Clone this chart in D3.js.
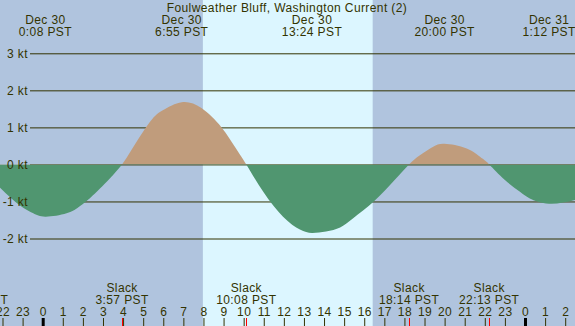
<!DOCTYPE html>
<html>
<head>
<meta charset="utf-8">
<script src="https://cdn.jsdelivr.net/npm/d3@7"></script>
<style>
  html, body { margin: 0; padding: 0; background: #b0c4de; }
  .vis { width: 575px; height: 326px; }
  text { font-family: "Liberation Sans", Arial, sans-serif; font-size: 12px; letter-spacing: 0.4px; fill: #333300; }
</style>
</head>
<body>
<div class="vis"></div>
<script>
(function() {
  'use strict';

  // current speed (kt), hours from Dec 30 0:00 PST
  var currentHours  = [-3.22, -2.12, -1.13, -0.47, 0.13, 1.19, 1.86, 2.35, 2.85, 3.35, 3.95,
                       4.43, 5.34, 6.0, 6.92, 7.9, 8.9, 9.57, 10.13, 11.0, 11.96, 12.8, 13.4,
                       14.1, 14.8, 15.45, 16.5, 17.5, 18.23, 18.77, 19.43, 20.0, 21.1, 21.9,
                       22.22, 23.0, 23.75, 24.24, 25.2, 26.48, 27.5, 28.5, 30.0];
  var currentSpeeds = [0, -0.63, -1.11, -1.32, -1.41, -1.32, -1.12, -0.91, -0.65, -0.37, 0,
                       0.4, 1.15, 1.47, 1.68, 1.52, 1.0, 0.47, 0, -0.76, -1.41, -1.76, -1.85,
                       -1.81, -1.7, -1.45, -0.99, -0.43, 0, 0.25, 0.48, 0.56, 0.43, 0.15,
                       0, -0.42, -0.74, -0.92, -1.06, -0.96, -0.77, -0.5, 0];

  var extremeDays  = [0, 0, 0, 0, 1];
  var extremeDates = ["Dec 30", "Dec 30", "Dec 30", "Dec 30", "Dec 31"];
  var extremeTimes = ["0:08", "6:55", "13:24", "20:00", "1:12"];

  var slackDays  = [-1, 0, 0, 0, 0];
  var slackTimes = ["20:47", "3:57", "10:08", "18:14", "22:13"];

  var speedTicks = [-2, -1, 0, 1, 2, 3];
  var hourTicks = d3.range(-2, 27);
  var sunrise = 7.97, sunset = 16.42;
  var title = "Foulweather Bluff, Washington Current (2)";

  var width = 575, height = 326;

  function toHours(day, hm) {
    var p = hm.split(':');
    return day * 24 + (+p[0]) + (+p[1]) / 60;
  }

  var x = d3.scaleLinear().domain([0, 24]).range([42.7, 525]);
  var y = d3.scaleLinear().domain([-2, 3]).range([238.5, 53.3]);

  var svg = d3.select('.vis').append('svg')
      .attr('width', width)
      .attr('height', height);

  svg.append('rect')
      .attr('width', width).attr('height', height)
      .attr('fill', '#b0c4de');

  // daylight band
  svg.append('rect')
      .attr('x', x(sunrise)).attr('y', 0)
      .attr('width', x(sunset) - x(sunrise)).attr('height', height)
      .attr('fill', '#dcf6ff');

  // speed grid (under the fill)
  svg.append('g')
      .attr('transform', 'translate(30,0)')
      .call(d3.axisLeft(y).tickValues(speedTicks)
        .tickSize(-(width - 30)).tickFormat(''))
      .call(function(g) {
        g.select('.domain').remove();
        g.selectAll('line').attr('stroke', '#333300');
      });

  var pts = currentHours.map(function(h, i) { return [h, currentSpeeds[i]]; });
  var area = d3.area()
      .x(function(d) { return x(d[0]); })
      .y0(y(0))
      .y1(function(d) { return y(d[1]); })
      .curve(d3.curveNatural);

  var defs = svg.append('defs');
  defs.append('clipPath').attr('id', 'clip-flood')
    .append('rect').attr('x', 0).attr('y', 0).attr('width', width).attr('height', y(0));
  defs.append('clipPath').attr('id', 'clip-ebb')
    .append('rect').attr('x', 0).attr('y', y(0)).attr('width', width).attr('height', height - y(0));

  svg.append('path').datum(pts)
      .attr('d', area).attr('fill', '#c09c7c')
      .attr('clip-path', 'url(#clip-flood)');
  svg.append('path').datum(pts)
      .attr('d', area).attr('fill', '#509670')
      .attr('clip-path', 'url(#clip-ebb)');

  // speed labels (over the fill)
  svg.append('g')
      .attr('transform', 'translate(30,0)')
      .call(d3.axisLeft(y).tickValues(speedTicks)
        .tickSize(0).tickPadding(2)
        .tickFormat(function(d) { return d + ' kt'; }))
      .call(function(g) {
        g.select('.domain').remove();
        g.selectAll('line').remove();
        g.selectAll('text').attr('font-size', null).attr('font-family', null).attr('fill', null);
      });

  // title and max/min labels
  svg.append('text')
      .attr('x', 287).attr('y', 11.6)
      .attr('text-anchor', 'middle')
      .text(title);

  var ext = svg.selectAll('.ext')
      .data(extremeTimes)
    .enter().append('g')
      .attr('class', 'ext')
      .attr('transform', function(d, i) {
        return 'translate(' + x(toHours(extremeDays[i], d)) + ',0)';
      });
  ext.append('text').attr('y', 23.6).attr('text-anchor', 'middle')
      .text(function(d, i) { return extremeDates[i]; });
  ext.append('text').attr('y', 36.3).attr('text-anchor', 'middle')
      .text(function(d) { return d + ' PST'; });

  // slack labels
  var slack = svg.selectAll('.slack')
      .data(slackTimes)
    .enter().append('g')
      .attr('class', 'slack')
      .attr('transform', function(d, i) {
        return 'translate(' + x(toHours(slackDays[i], d)) + ',0)';
      });
  slack.append('text').attr('y', 291.6).attr('text-anchor', 'middle').text('Slack');
  slack.append('text').attr('y', 303.6).attr('text-anchor', 'middle')
      .text(function(d) { return d + ' PST'; });

  // hour axis
  svg.append('g')
      .attr('transform', 'translate(0,' + height + ')')
      .call(d3.axisTop(x).tickValues(hourTicks).tickSize(8).tickPadding(2)
        .tickFormat(function(d) { return (d + 24) % 24; }))
      .call(function(g) {
        g.select('.domain').remove();
        g.selectAll('text').attr('font-size', null).attr('font-family', null).attr('fill', null);
        g.selectAll('line').attr('stroke', function(d) { return d % 24 === 0 ? '#000' : '#333300'; })
          .attr('stroke-width', function(d) { return d % 24 === 0 ? 3 : 1; });
      });

  svg.selectAll('.slack-tick')
      .data(slackTimes)
    .enter().append('line')
      .attr('class', 'slack-tick')
      .attr('x1', function(d, i) { return Math.round(x(toHours(slackDays[i], d))) + 0.5; })
      .attr('x2', function(d, i) { return Math.round(x(toHours(slackDays[i], d))) + 0.5; })
      .attr('y1', height - 8).attr('y2', height)
      .attr('stroke', '#ff0000');

}());
</script>
</body>
</html>
